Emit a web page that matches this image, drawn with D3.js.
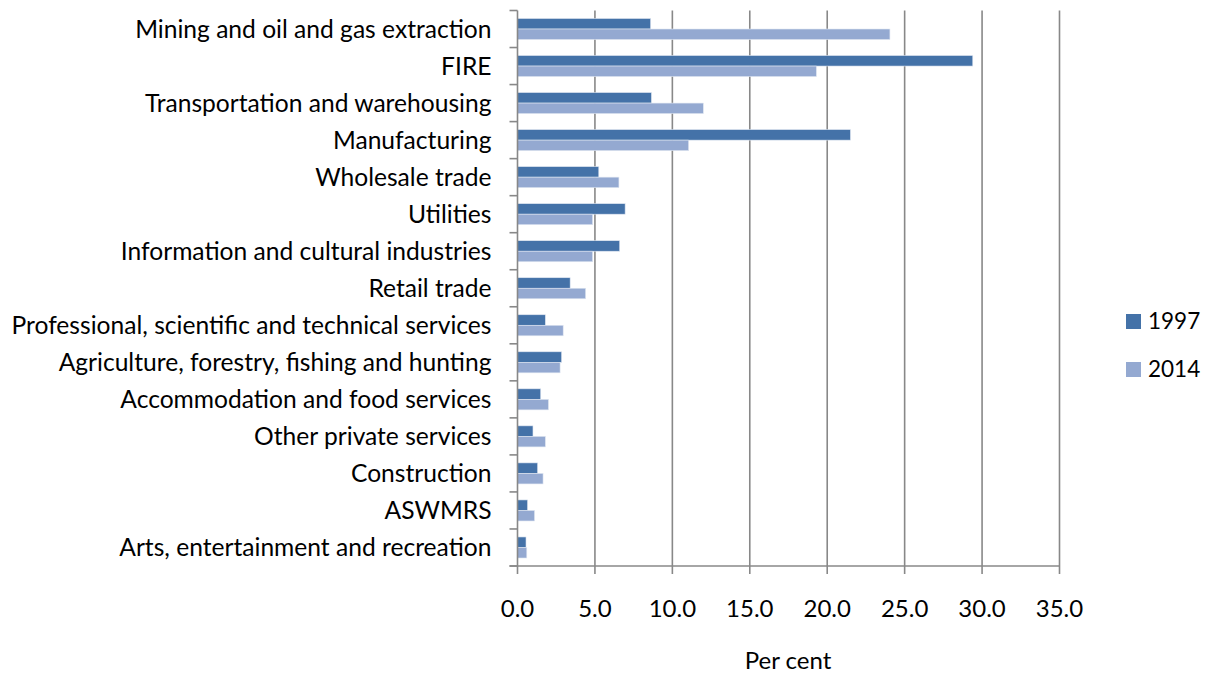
<!DOCTYPE html>
<html>
<head>
<meta charset="utf-8">
<script src="https://cdn.jsdelivr.net/npm/d3@7"></script>
<style>
  html, body { margin: 0; padding: 0; background: #fff; }
  svg { display: block; font-family: Lato, "Open Sans", sans-serif; }
</style>
</head>
<body>
<svg id="chart" width="1207" height="673"></svg>
<script>
// Industries, top to bottom
const categories = [
  "Mining and oil and gas extraction",
  "FIRE",
  "Transportation and warehousing",
  "Manufacturing",
  "Wholesale trade",
  "Utilities",
  "Information and cultural industries",
  "Retail trade",
  "Professional, scientific and technical services",
  "Agriculture, forestry, fishing and hunting",
  "Accommodation and food services",
  "Other private services",
  "Construction",
  "ASWMRS",
  "Arts, entertainment and recreation"
];
const seriesNames = ["1997", "2014"];
const values1997 = [8.6, 29.4, 8.65, 21.5, 5.25, 6.95, 6.6, 3.4, 1.8, 2.85, 1.5, 1.0, 1.3, 0.65, 0.55];
const values2014 = [24.05, 19.3, 12.0, 11.05, 6.55, 4.85, 4.85, 4.4, 2.95, 2.75, 2.0, 1.8, 1.65, 1.1, 0.6];
const xTicks = [0, 5, 10, 15, 20, 25, 30, 35];
const xTitle = "Per cent";

const colors = { "1997": "#4472a8", "2014": "#94a9d1" };
const gridColor = "#888888";

const svg = d3.select("#chart");
const plot = { left: 517.5, right: 1059.5, top: 10.5, bottom: 566 };

const x = d3.scaleLinear().domain([0, 35]).range([plot.left, plot.right]);
const y = d3.scaleBand().domain(categories).range([plot.top, plot.bottom]);
const ySub = d3.scaleBand().domain(seriesNames).range([0, y.bandwidth()]).paddingOuter(0.76);

// vertical gridlines
svg.append("g")
  .selectAll("line")
  .data(xTicks.filter(d => d > 0))
  .join("line")
  .attr("x1", d => x(d)).attr("x2", d => x(d))
  .attr("y1", plot.top).attr("y2", plot.bottom)
  .attr("stroke", gridColor).attr("stroke-width", 1.6);

// bars
const rows = categories.map((c, i) => ({ cat: c, vals: [
  { key: "1997", v: values1997[i] },
  { key: "2014", v: values2014[i] }
]}));

svg.append("g")
  .selectAll("g")
  .data(rows)
  .join("g")
  .attr("transform", d => `translate(0,${y(d.cat)})`)
  .selectAll("rect")
  .data(d => d.vals)
  .join("rect")
  .attr("x", x(0))
  .attr("y", d => ySub(d.key))
  .attr("width", d => x(d.v) - x(0))
  .attr("height", ySub.bandwidth())
  .attr("fill", d => colors[d.key])
  .attr("stroke", "#dfe6f1")
  .attr("stroke-width", 0.6);

// left (category) axis
const yAxis = svg.append("g").attr("stroke", gridColor).attr("stroke-width", 1.6);
yAxis.append("line")
  .attr("x1", plot.left).attr("x2", plot.left)
  .attr("y1", plot.top).attr("y2", plot.bottom);
const bounds = categories.map(c => y(c)).concat([plot.bottom]);
yAxis.selectAll("line.tick")
  .data(bounds)
  .join("line")
  .attr("class", "tick")
  .attr("x1", plot.left - 8).attr("x2", plot.left)
  .attr("y1", d => d).attr("y2", d => d);

// bottom (value) axis
const xAxis = svg.append("g").attr("stroke", gridColor).attr("stroke-width", 1.6);
xAxis.append("line")
  .attr("x1", plot.left - 8).attr("x2", plot.right)
  .attr("y1", plot.bottom).attr("y2", plot.bottom);
xAxis.selectAll("line.tick")
  .data(xTicks)
  .join("line")
  .attr("class", "tick")
  .attr("x1", d => x(d)).attr("x2", d => x(d))
  .attr("y1", plot.bottom).attr("y2", plot.bottom + 8);

// category labels
svg.append("g")
  .selectAll("text")
  .data(categories)
  .join("text")
  .attr("x", plot.left - 26)
  .attr("y", d => y(d) + y.bandwidth() / 2)
  .attr("dy", "0.35em")
  .attr("text-anchor", "end")
  .attr("font-size", 24.6)
  .attr("fill", "#000")
  .text(d => d);

// tick labels
const fmt = d3.format(".1f");
svg.append("g")
  .selectAll("text")
  .data(xTicks)
  .join("text")
  .attr("x", d => x(d))
  .attr("y", 609)
  .attr("dy", "0.35em")
  .attr("text-anchor", "middle")
  .attr("font-size", 24)
  .attr("fill", "#000")
  .text(d => fmt(d));

// axis title
svg.append("text")
  .attr("x", 788).attr("y", 661).attr("dy", "0.35em")
  .attr("text-anchor", "middle")
  .attr("font-size", 24)
  .attr("fill", "#000")
  .text(xTitle);

// legend
const legend = svg.append("g")
  .selectAll("g")
  .data(seriesNames)
  .join("g")
  .attr("transform", (d, i) => `translate(1126,${314 + i * 48})`);
legend.append("rect")
  .attr("width", 15).attr("height", 15)
  .attr("fill", d => colors[d]);
legend.append("text")
  .attr("x", 22).attr("y", 7.5).attr("dy", "0.35em")
  .attr("font-size", 22.5)
  .attr("fill", "#000")
  .text(d => d);
</script>
</body>
</html>
